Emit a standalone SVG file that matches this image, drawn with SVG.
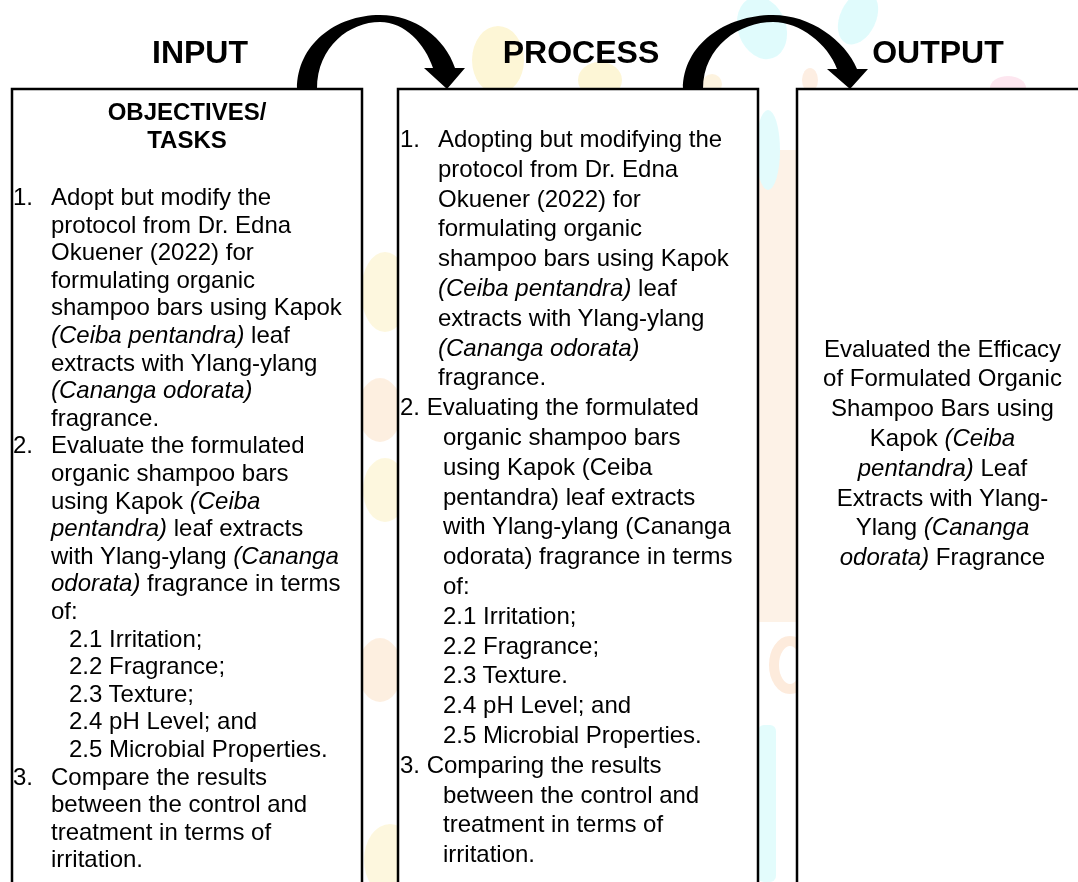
<svg xmlns="http://www.w3.org/2000/svg" width="1078" height="882" viewBox="0 0 1078 882">
<style>
.t{font-family:"Liberation Sans",Arial,sans-serif;font-size:24px;fill:#000}
.h{font-family:"Liberation Sans",Arial,sans-serif;font-size:32px;font-weight:bold;fill:#000;text-anchor:middle}
.b{font-weight:bold}
.i{font-style:italic}
.c{text-anchor:middle}
.box{fill:#fff;stroke:#000;stroke-width:2.5}
.arr{fill:#000}
</style>
<rect width="1078" height="882" fill="#fff"/>
<g id="watermark" opacity="0.8">
<ellipse cx="498" cy="60" rx="26" ry="34" fill="#fdf4cc"/>
<ellipse cx="600" cy="80" rx="22" ry="18" fill="#fdf4cc"/>
<ellipse cx="762" cy="28" rx="24" ry="32" fill="#d9fbfc" transform="rotate(-20 762 28)"/>
<ellipse cx="858" cy="18" rx="18" ry="28" fill="#d9fbfc" transform="rotate(25 858 18)"/>
<ellipse cx="1008" cy="88" rx="18" ry="12" fill="#fde0ec"/>
<ellipse cx="712" cy="84" rx="10" ry="10" fill="#fdf0d8"/>
<ellipse cx="810" cy="80" rx="8" ry="12" fill="#fdeadb"/>
<ellipse cx="385" cy="292" rx="24" ry="40" fill="#fdf6d6"/>
<ellipse cx="380" cy="410" rx="22" ry="32" fill="#fdebd9"/>
<ellipse cx="385" cy="490" rx="22" ry="32" fill="#fdf6d6"/>
<ellipse cx="380" cy="670" rx="22" ry="32" fill="#fdebd9"/>
<ellipse cx="390" cy="860" rx="26" ry="36" fill="#fdf6d6"/>
<rect x="758" y="150" width="40" height="472" fill="#fdefe2"/>
<ellipse cx="768" cy="150" rx="12" ry="40" fill="#dcfbfc"/>
<ellipse cx="790" cy="665" rx="16" ry="24" fill="none" stroke="#fde6d4" stroke-width="10"/>
<rect x="758" y="725" width="18" height="157" rx="6" fill="#dcfcfc"/>
</g>
<g id="input">
<rect class="box" x="12" y="89" width="350" height="810"/>
<text class="h" x="200" y="63">INPUT</text>
<text class="t b c" x="187" y="120">OBJECTIVES/</text>
<text class="t b c" x="187" y="147.6">TASKS</text>
<text class="t" x="13" y="205">1.</text>
<text class="t" x="51" y="205">Adopt but modify the</text>
<text class="t" x="51" y="232.6">protocol from Dr. Edna</text>
<text class="t" x="51" y="260.2">Okuener (2022) for</text>
<text class="t" x="51" y="287.8">formulating organic</text>
<text class="t" x="51" y="315.4">shampoo bars using Kapok</text>
<text class="t" x="51" y="343"><tspan class="i">(Ceiba pentandra)</tspan> leaf</text>
<text class="t" x="51" y="370.6">extracts with Ylang-ylang</text>
<text class="t" x="51" y="398.2"><tspan class="i">(Cananga odorata)</tspan></text>
<text class="t" x="51" y="425.8">fragrance.</text>
<text class="t" x="13" y="453.4">2.</text>
<text class="t" x="51" y="453.4">Evaluate the formulated</text>
<text class="t" x="51" y="481">organic shampoo bars</text>
<text class="t" x="51" y="508.6">using Kapok <tspan class="i">(Ceiba</tspan></text>
<text class="t" x="51" y="536.2"><tspan class="i">pentandra)</tspan> leaf extracts</text>
<text class="t" x="51" y="563.8">with Ylang-ylang <tspan class="i">(Cananga</tspan></text>
<text class="t" x="51" y="591.4"><tspan class="i">odorata)</tspan> fragrance in terms</text>
<text class="t" x="51" y="619">of:</text>
<text class="t" x="69" y="646.6">2.1 Irritation;</text>
<text class="t" x="69" y="674.2">2.2 Fragrance;</text>
<text class="t" x="69" y="701.8">2.3 Texture;</text>
<text class="t" x="69" y="729.4">2.4 pH Level; and</text>
<text class="t" x="69" y="757">2.5 Microbial Properties.</text>
<text class="t" x="13" y="784.6">3.</text>
<text class="t" x="51" y="784.6">Compare the results</text>
<text class="t" x="51" y="812.2">between the control and</text>
<text class="t" x="51" y="839.8">treatment in terms of</text>
<text class="t" x="51" y="867.4">irritation.</text>
</g>
<g id="process">
<rect class="box" x="398" y="89" width="360" height="810"/>
<text class="h" x="581" y="63">PROCESS</text>
<text class="t" x="400" y="147">1.</text>
<text class="t" x="438" y="147">Adopting but modifying the</text>
<text class="t" x="438" y="176.8">protocol from Dr. Edna</text>
<text class="t" x="438" y="206.6">Okuener (2022) for</text>
<text class="t" x="438" y="236.4">formulating organic</text>
<text class="t" x="438" y="266.2">shampoo bars using Kapok</text>
<text class="t" x="438" y="296"><tspan class="i">(Ceiba pentandra)</tspan> leaf</text>
<text class="t" x="438" y="325.8">extracts with Ylang-ylang</text>
<text class="t" x="438" y="355.6"><tspan class="i">(Cananga odorata)</tspan></text>
<text class="t" x="438" y="385.4">fragrance.</text>
<text class="t" x="400" y="415.2">2. Evaluating the formulated</text>
<text class="t" x="443" y="445">organic shampoo bars</text>
<text class="t" x="443" y="474.8">using Kapok (Ceiba</text>
<text class="t" x="443" y="504.6">pentandra) leaf extracts</text>
<text class="t" x="443" y="534.4">with Ylang-ylang (Cananga</text>
<text class="t" x="443" y="564.2">odorata) fragrance in terms</text>
<text class="t" x="443" y="594">of:</text>
<text class="t" x="443" y="623.8">2.1 Irritation;</text>
<text class="t" x="443" y="653.6">2.2 Fragrance;</text>
<text class="t" x="443" y="683.4">2.3 Texture.</text>
<text class="t" x="443" y="713.2">2.4 pH Level; and</text>
<text class="t" x="443" y="743">2.5 Microbial Properties.</text>
<text class="t" x="400" y="772.8">3. Comparing the results</text>
<text class="t" x="443" y="802.6">between the control and</text>
<text class="t" x="443" y="832.4">treatment in terms of</text>
<text class="t" x="443" y="862.2">irritation.</text>
</g>
<g id="output">
<rect class="box" x="797" y="89" width="300" height="810"/>
<text class="h" x="938" y="63">OUTPUT</text>
<text class="t c" x="942.5" y="356.5">Evaluated the Efficacy</text>
<text class="t c" x="942.5" y="386.3">of Formulated Organic</text>
<text class="t c" x="942.5" y="416.1">Shampoo Bars using</text>
<text class="t c" x="942.5" y="445.9">Kapok <tspan class="i">(Ceiba</tspan></text>
<text class="t c" x="942.5" y="475.7"><tspan class="i">pentandra)</tspan> Leaf</text>
<text class="t c" x="942.5" y="505.5">Extracts with Ylang-</text>
<text class="t c" x="942.5" y="535.3">Ylang <tspan class="i">(Cananga</tspan></text>
<text class="t c" x="942.5" y="565.1"><tspan class="i">odorata)</tspan> Fragrance</text>
</g>
<g id="connectors">
<path class="arr" d="M297,89 C297,45 335,15 380,15 C415,15 445,38 455,68 L465,68 L447,89 L424,68 L433,68 C425,44 405,22 380,22 C350,22 317,46 317,89 Z"/>
<path class="arr" d="M683,89 C683,45 725,15 773,15 C810,15 845,40 857,69 L868,69 L850,89 L827,69 L837,69 C828,44 800,22 773,22 C740,22 703,46 703,89 Z"/>
</g>
</svg>
